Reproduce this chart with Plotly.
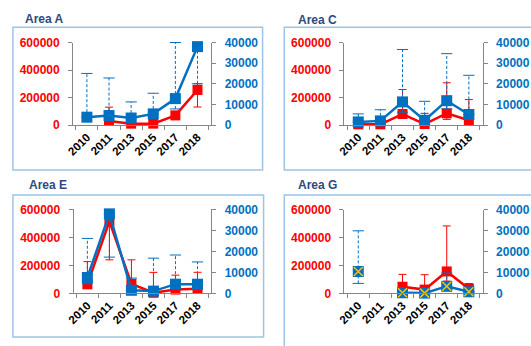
import plotly.graph_objects as go

years = ["2010", "2011", "2013", "2015", "2017", "2018"]

# Area A
a_red = [None, 30000, 10000, 10000, 70000, 255000]
a_red_up = [0, 100000, 0, 0, 0, 45000]
a_red_dn = [0, 0, 0, 0, 0, 124000]
a_blue = [3800, 4600, 3400, 5400, 12800, 38000]
a_blue_up = [21200, 18200, 7800, 10000, 27200, 0]
a_blue_dn = [0, 0, 0, 0, 5000, 18000]

# Area C
c_red = [5000, 5000, 80000, 7000, 85000, 35000]
c_red_up = [0, 0, 178000, 78000, 222000, 150000]
c_red_dn = [0, 0, 0, 0, 44000, 0]
c_blue = [1500, 2000, 11200, 2300, 11800, 5100]
c_blue_up = [3900, 5400, 25400, 9200, 22800, 19000]
c_blue_dn = [0, 0, 5000, 0, 4000, 0]

# Area E
e_red = [65000, 515000, 68000, 4600, 27500, 34000]
e_red_up = [162000, 0, 172000, 146000, 103000, 117000]
e_red_dn = [20000, 275000, 0, 0, 0, 0]
e_blue = [7600, 37900, 1500, 1100, 4400, 4400]
e_blue_up = [18600, 0, 5800, 15700, 13900, 10600]
e_blue_dn = [3000, 20600, 0, 0, 0, 0]

# Area G
g_red = [None, None, 48000, 27500, 158000, 34000]
g_red_up = [0, 0, 89000, 107000, 327000, 37000]
g_red_dn = [0, 0, 0, 0, 70000, 0]
g_blue = [10500, None, 300, 150, 3400, 760]
g_blue_up = [19500, 0, 0, 0, 6400, 0]
g_blue_dn = [5700, 0, 0, 0, 1500, 0]

left_ticks = [0, 200000, 400000, 600000]
right_ticks = [0, 10000, 20000, 30000, 40000]

RED = "#FF0000"
BLUE = "#0070C0"
GOLD = "#FFC000"
GREY = "#868686"
FONT = "Liberation Sans"

W, H = 531, 346

panels = [
    dict(title="Area A", red=a_red, rup=a_red_up, rdn=a_red_dn,
         blue=a_blue, bup=a_blue_up, bdn=a_blue_dn, cross=False,
         px=(67, 207), py=(37, 123), tpos=(16, 13), box=(6, 21, 259, 170)),
    dict(title="Area C", red=c_red, rup=c_red_up, rdn=c_red_dn,
         blue=c_blue, bup=c_blue_up, bdn=c_blue_dn, cross=False,
         px=(342, 482), py=(37, 123), tpos=(293, 14), box=(281, 21, 545, 170)),
    dict(title="Area E", red=e_red, rup=e_red_up, rdn=e_red_dn,
         blue=e_blue, bup=e_blue_up, bdn=e_blue_dn, cross=False,
         px=(67.5, 207), py=(211, 298.5), tpos=(20, 186), box=(6, 196, 260, 344)),
    dict(title="Area G", red=g_red, rup=g_red_up, rdn=g_red_dn,
         blue=g_blue, bup=g_blue_up, bdn=g_blue_dn, cross=True,
         px=(342, 482), py=(211.5, 298.5), tpos=(293, 186), box=(281, 196, 545, 360)),
]

fig = go.Figure()
layout = dict(
    width=W, height=H, margin=dict(l=0, r=0, t=0, b=0),
    paper_bgcolor="white", plot_bgcolor="rgba(0,0,0,0)",
    showlegend=False, shapes=[], annotations=[],
)

for i, p in enumerate(panels, start=1):
    xa = "x" if i == 1 else f"x{i}"
    yl_n, yr_n = 2 * i - 1, 2 * i
    yl = "y" if yl_n == 1 else f"y{yl_n}"
    yr = f"y{yr_n}"

    # red series on the left axis, asymmetric solid error bars
    fig.add_trace(go.Scatter(
        x=years, y=p["red"], xaxis=xa, yaxis=yl, mode="lines+markers",
        line=dict(color=RED, width=2.5),
        marker=dict(symbol="square", size=10, color=RED),
        error_y=dict(type="data", symmetric=False, array=p["rup"],
                     arrayminus=p["rdn"], color=RED, thickness=1, width=4),
        cliponaxis=False,
    ))

    # blue error bars: dashed stems with end caps
    sx, sy, cx, cy = [], [], [], []
    for yr_lab, v, up, dn in zip(years, p["blue"], p["bup"], p["bdn"]):
        if v is None:
            continue
        lo, hi = v - dn, v + up
        sx += [yr_lab, yr_lab, None]
        sy += [lo, hi, None]
        cx += [yr_lab, yr_lab]
        cy += [lo, hi]
    fig.add_trace(go.Scatter(
        x=sx, y=sy, xaxis=xa, yaxis=yr, mode="lines",
        line=dict(color=BLUE, width=1, dash="3px,2px"), cliponaxis=False,
    ))
    fig.add_trace(go.Scatter(
        x=cx, y=cy, xaxis=xa, yaxis=yr, mode="markers",
        marker=dict(symbol="line-ew", size=8, line=dict(color=BLUE, width=1)),
        cliponaxis=False,
    ))

    # blue series on the right axis
    fig.add_trace(go.Scatter(
        x=years, y=p["blue"], xaxis=xa, yaxis=yr, mode="lines+markers",
        line=dict(color=BLUE, width=2.5),
        marker=dict(symbol="square", size=11, color=BLUE),
        cliponaxis=False,
    ))
    if p["cross"]:
        fig.add_trace(go.Scatter(
            x=years, y=p["blue"], xaxis=xa, yaxis=yr, mode="markers",
            marker=dict(symbol="x-thin", size=9, line=dict(color=GOLD, width=1.5)),
            cliponaxis=False,
        ))

    x0, x1 = p["px"]
    y0, y1 = p["py"]
    xdom = [x0 / W, x1 / W]
    ydom = [1 - y1 / H, 1 - y0 / H]

    layout["xaxis" if i == 1 else f"xaxis{i}"] = dict(
        domain=xdom, anchor=yl, type="category",
        categoryorder="array", categoryarray=years,
        showline=True, linecolor=GREY, linewidth=1,
        ticks="outside", tickson="boundaries", ticklen=4, tickcolor=GREY,
        tickangle=-45, showgrid=False, zeroline=False,
        tickfont=dict(family=FONT, size=11.5, color="black", weight="bold"),
    )
    layout["yaxis" if yl_n == 1 else f"yaxis{yl_n}"] = dict(
        domain=ydom, anchor=xa, range=[0, 600000], tickvals=left_ticks,
        tickformat="d", showline=True, linecolor=GREY, linewidth=1,
        ticks="outside", ticklen=4, tickcolor=GREY, showgrid=False,
        zeroline=False, ticklabelstandoff=6,
        tickfont=dict(family=FONT, size=12, color=RED, weight="bold"),
    )
    layout[f"yaxis{yr_n}"] = dict(
        domain=ydom, anchor=xa, overlaying=yl, side="right",
        range=[0, 40000], tickvals=right_ticks, tickformat="d",
        showline=True, linecolor=GREY, linewidth=1,
        ticks="outside", ticklen=4, tickcolor=GREY, showgrid=False,
        zeroline=False, ticklabelstandoff=6,
        tickfont=dict(family=FONT, size=12, color=BLUE, weight="bold"),
    )

    bx0, by0, bx1, by1 = p["box"]
    layout["shapes"].append(dict(
        type="rect", xref="paper", yref="paper",
        x0=bx0 / W, x1=bx1 / W, y0=1 - by1 / H, y1=1 - by0 / H,
        line=dict(color="#9DC3E6", width=1.5), fillcolor="rgba(0,0,0,0)",
        layer="below",
    ))
    tx, ty = p["tpos"]
    layout["annotations"].append(dict(
        text=p["title"], xref="paper", yref="paper",
        x=tx / W, y=1 - ty / H, xanchor="left", yanchor="middle",
        showarrow=False,
        font=dict(family=FONT, size=12, color="#2E4A7D", weight="bold"),
    ))

fig.update_layout(**layout)
fig.write_html("out.html", config={"displayModeBar": False})
